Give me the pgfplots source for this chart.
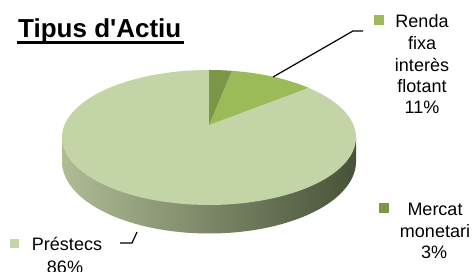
\documentclass[border=0pt]{standalone}
\usepackage{pgfplots}
\pgfplotsset{compat=1.18}
\usepackage{fontspec}
\setmainfont{Liberation Sans}
\definecolor{prest}{RGB}{195,212,166}
\definecolor{renda}{RGB}{155,187,89}
\definecolor{mercat}{RGB}{122,150,70}
\definecolor{sideL}{RGB}{176,188,150}
\definecolor{sideR}{RGB}{72,82,56}
% data (percent)
\def\vM{3}
\def\vR{11}
\def\vP{86}
% pie geometry (pt)
\def\cx{209}
\def\cy{133.5}
\def\A{144.5}
\def\B{67.5}
\def\D{12.5}
\def\K{0.185}
\pgfmathsetmacro\aM{90-3.6*\vM}
\pgfmathsetmacro\aR{\aM-3.6*\vR}
\pgfmathsetmacro\aP{\aR-3.6*\vP}
\begin{document}
\begin{tikzpicture}
\begin{axis}[scale only axis, width=473pt, height=271pt,
  xmin=0, xmax=473, ymin=0, ymax=271, hide axis, clip=false]
% side of the pie
\addplot[draw=none, left color=sideL, right color=sideR, domain=180:360, samples=80, variable=\t]
  ({\cx+147*cos(t)}, {\cy-24+72*sin(t)}) -- (axis cs:356,\cy) -- (axis cs:62,\cy) -- cycle;
% top face slices
\addplot[fill=prest, draw=none, domain=\aP:\aR, samples=120, variable=\t]
  ({\cx+\A*cos(t)/(1+\K*sin(t))}, {\cy+(\B*sin(t)+\D)/(1+\K*sin(t))}) -- (axis cs:\cx,{\cy+\D}) -- cycle;
\addplot[fill=renda, draw=none, domain=\aR:\aM, samples=30, variable=\t]
  ({\cx+\A*cos(t)/(1+\K*sin(t))}, {\cy+(\B*sin(t)+\D)/(1+\K*sin(t))}) -- (axis cs:\cx,{\cy+\D}) -- cycle;
\addplot[fill=mercat, draw=none, domain=\aM:90, samples=12, variable=\t]
  ({\cx+\A*cos(t)/(1+\K*sin(t))}, {\cy+(\B*sin(t)+\D)/(1+\K*sin(t))}) -- (axis cs:\cx,{\cy+\D}) -- cycle;
% leader lines
\addplot[black, line width=1.2pt] coordinates {(273,194) (353,240) (363,240)};
\addplot[black, line width=1.2pt] coordinates {(120,28) (132,28) (137,39)};
% legend markers
\addplot[only marks, mark=square*, mark size=4.3pt, color=renda] coordinates {(378.5,251)};
\addplot[only marks, mark=square*, mark size=4.5pt, color=mercat] coordinates {(384,63)};
\addplot[only marks, mark=square*, mark size=4.2pt, color=prest] coordinates {(14,28)};
% title underline
\addplot[black, line width=3.4pt] coordinates {(17,228.3) (184,228.3)};
% texts
\node[anchor=base west, inner sep=0pt, font=\fontsize{26}{30}\selectfont\bfseries] at (axis cs:18,233.3) {Tipus d\textquotesingle Actiu};
\begin{scope}[every node/.style={anchor=base, inner sep=0pt, font=\fontsize{18}{21}\selectfont}]
\node at (axis cs:422,243) {Renda};
\node at (axis cs:422,221.5) {fixa};
\node at (axis cs:422,200) {interès};
\node at (axis cs:422,178.5) {flotant};
\node at (axis cs:422,158) {11\%};
\node at (axis cs:435,56) {Mercat};
\node at (axis cs:435,34) {monetari};
\node at (axis cs:434,13) {3\%};
\node at (axis cs:67,20.5) {Préstecs};
\node at (axis cs:65,-2) {86\%};
\end{scope}
\end{axis}
\pgfresetboundingbox
\useasboundingbox (0,0) rectangle (473pt,271pt);
\end{tikzpicture}
\end{document}
